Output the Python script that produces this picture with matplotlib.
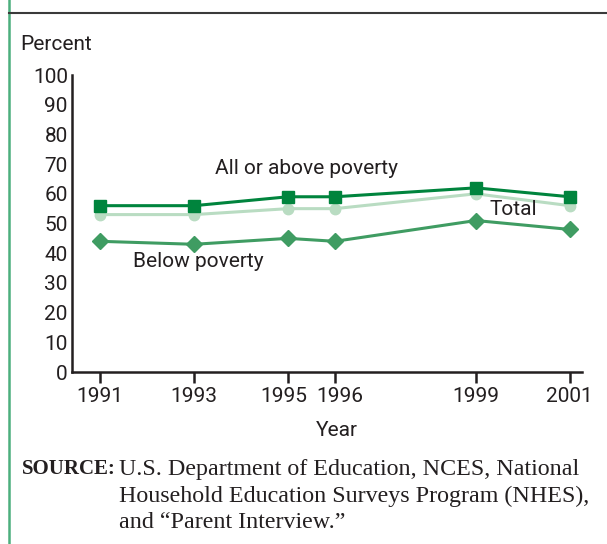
import matplotlib.pyplot as plt
import matplotlib.transforms as mtransforms
from matplotlib.lines import Line2D

years = [1991, 1993, 1995, 1996, 1999, 2001]
above = [56, 56, 59, 59, 62, 59]
total = [53, 53, 55, 55, 60, 56]
below = [44, 43, 45, 44, 51, 48]
yticks = [0, 10, 20, 30, 40, 50, 60, 70, 80, 90, 100]

ink = "#231f20"
sans = ["Roboto", "DejaVu Sans"]
serif = ["Liberation Serif", "DejaVu Serif"]

fig = plt.figure(figsize=(6.07, 5.44), dpi=100)
ax = fig.add_axes([72/607, 1-372/544, (582-72)/607, (372-75)/544])

ax.plot(years, total, color="#b9dcc2", lw=2.2, marker="o", ms=7.5, zorder=2)
ax.plot(years, below, color="#3f9c62", lw=2.2, marker="D", ms=8, zorder=3)
ax.plot(years, above, color="#00843d", lw=2.2, marker="s", ms=8.5, zorder=4)

ax.set_xlim(1990.4, 2001.26)
ax.set_ylim(0, 100)
ax.set_xticks(years)
ax.set_yticks(yticks)
for s in ["top", "right"]:
    ax.spines[s].set_visible(False)
for s in ["left", "bottom"]:
    ax.spines[s].set_linewidth(1.8)
    ax.spines[s].set_color(ink)
ax.tick_params(axis="y", length=0, pad=3)
ax.tick_params(axis="x", length=8, width=1.8, color=ink, pad=3, direction="out")
for lab in ax.get_xticklabels() + ax.get_yticklabels():
    lab.set_family(sans)
    lab.set_fontsize(15)
    lab.set_color(ink)

# spread the crowded 1995/1996 labels apart a little
xlabs = ax.get_xticklabels()
for idx, dx in [(2, -4), (3, 5)]:
    off = mtransforms.ScaledTranslation(dx/100, 0, fig.dpi_scale_trans)
    xlabs[idx].set_transform(xlabs[idx].get_transform() + off)

ax.text(1995.4, 68.4, "All or above poverty", fontsize=15, family=sans, color=ink, ha="center", va="center")
ax.text(1999.8, 54.8, "Total", fontsize=15, family=sans, color=ink, ha="center", va="center")
ax.text(1993.1, 37.1, "Below poverty", fontsize=15, family=sans, color=ink, ha="center", va="center")

fig.text(20/607, 1-45/544, "Percent", fontsize=15, family=sans, color=ink, va="center")
fig.text(337/607, 1-430/544, "Year", fontsize=15, family=sans, color=ink, ha="center", va="center")

fig.text(22/607, 1-469/544, "SOURCE:", fontsize=15, family=serif, weight="bold", color=ink, va="center")
src = ["U.S. Department of Education, NCES, National",
       "Household Education Surveys Program (NHES),",
       "and \u201cParent Interview.\u201d"]
for i, line in enumerate(src):
    fig.text(119/607, 1-(469+27*i)/544, line, fontsize=17.3, family=serif, color=ink, va="center")

# frame lines
fig.add_artist(Line2D([8.5/607, 8.5/607], [0, 1], color="#4caf7d", lw=1.8))
fig.add_artist(Line2D([9/607, 1], [1-13/544, 1-13/544], color="#3a3a3a", lw=1.5))

fig.savefig("out.png", dpi=100)
